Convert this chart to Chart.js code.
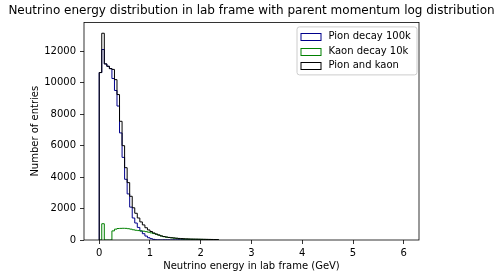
<!DOCTYPE html>
<html>
<head>
<meta charset="utf-8">
<script src="https://cdn.jsdelivr.net/npm/chart.js@4.4.1/dist/chart.umd.min.js"></script>
<style>
  html, body { margin: 0; padding: 0; background: #fff; }
  #chart { display: block; }
</style>
</head>
<body>
<canvas id="chart" width="503" height="278"></canvas>
<script>
// histogram bins start at 0 GeV, each 0.05 GeV wide
const binWidth = 0.05;

const pionCounts = [10650, 12115, 11200, 11050, 10900, 10270, 9510, 8520, 6810, 5255,
    3860, 2930, 2090, 1400, 1080, 800, 570, 400, 250, 145,
    85, 40, 15, 10, 5, 10, 10, 7, 7, 10,
    11, 15, 18, 18, 17, 16, 14, 14, 13, 12,
    11, 11, 11, 10, 9, 8, 7];

const kaonCounts = [0, 1035, 0, 0, 0, 580, 690, 730, 740, 745,
    740, 720, 690, 650, 620, 600, 580, 560, 530, 495,
    455, 410, 365, 310, 255, 210, 180, 158, 138, 120,
    104, 85, 72, 62, 55, 50, 46, 44, 42, 40,
    37, 34, 31, 28, 25, 22, 18];

const totalCounts = [10650, 13150, 11200, 11050, 10900, 10850, 10200, 9250, 7550, 6000,
    4600, 3650, 2780, 2050, 1700, 1400, 1150, 960, 780, 640,
    540, 450, 380, 320, 260, 220, 190, 165, 145, 130,
    115, 100, 90, 80, 72, 66, 60, 58, 55, 52,
    48, 45, 42, 38, 34, 30, 25];

const seriesLabels = ['Pion decay 100k', 'Kaon decay 10k', 'Pion and kaon'];
const seriesColors = ['#00008b', '#008000', '#000000'];

const xTicks = [0, 1, 2, 3, 4, 5, 6];
const yTicks = [0, 2000, 4000, 6000, 8000, 10000, 12000];

const FONT = 'DejaVu Sans';
Chart.defaults.font.family = FONT;
Chart.defaults.color = '#000';

// outline of a step histogram: up from 0, across each bin, back down to 0
function stepPoints(counts) {
    const pts = [{ x: 0, y: 0 }];
    counts.forEach((c, i) => pts.push({ x: i * binWidth, y: c }));
    pts.push({ x: counts.length * binWidth, y: 0 });
    return pts;
}

const frame = {
    id: 'frame',
    afterDatasetsDraw(chart) {
        const { ctx, chartArea: a } = chart;
        ctx.save();
        ctx.strokeStyle = '#000';
        ctx.lineWidth = 0.8;
        ctx.strokeRect(a.left, a.top, a.right - a.left, a.bottom - a.top);
        ctx.restore();
    }
};

const boxLegend = {
    id: 'boxLegend',
    afterDraw(chart) {
        const { ctx, chartArea: a } = chart;
        const w = 120, h = 48;
        const x0 = a.right - 2 - w, y0 = a.top + 4.5;
        ctx.save();
        ctx.fillStyle = 'rgba(255,255,255,0.8)';
        ctx.strokeStyle = '#cccccc';
        ctx.lineWidth = 1;
        ctx.beginPath();
        ctx.roundRect(x0, y0, w, h, 2.5);
        ctx.fill();
        ctx.stroke();

        ctx.font = '10px "' + FONT + '"';
        ctx.textBaseline = 'middle';
        ctx.fillStyle = '#000';
        seriesLabels.forEach((label, i) => {
            const cy = y0 + 9.6 + i * 14.7;
            ctx.strokeStyle = seriesColors[i];
            ctx.lineWidth = 1;
            ctx.strokeRect(x0 + 4, Math.round(cy - 3.5) + 0.5, 20, 7);
            ctx.fillText(label, x0 + 31.5, cy);
        });
        ctx.restore();
    }
};

new Chart(document.getElementById('chart'), {
    type: 'line',
    data: {
        datasets: [
            { label: seriesLabels[0], data: stepPoints(pionCounts), borderColor: seriesColors[0], order: 2 },
            { label: seriesLabels[1], data: stepPoints(kaonCounts), borderColor: seriesColors[1], order: 1 },
            { label: seriesLabels[2], data: stepPoints(totalCounts), borderColor: seriesColors[2], order: 0 }
        ]
    },
    options: {
        responsive: false,
        animation: false,
        events: [],
        elements: {
            line: { borderWidth: 1, stepped: true, tension: 0, fill: false },
            point: { radius: 0 }
        },
        layout: { padding: 0 },
        plugins: {
            legend: { display: false },
            tooltip: { enabled: false },
            title: {
                display: true,
                text: 'Neutrino energy distribution in lab frame with parent momentum log distribution',
                font: { family: FONT, size: 12, weight: 'normal' },
                color: '#000',
                padding: { top: 4, bottom: 4 }
            }
        },
        scales: {
            x: {
                type: 'linear',
                min: -0.3,
                max: 6.3,
                afterBuildTicks: s => { s.ticks = xTicks.map(v => ({ value: v })); },
                afterFit: s => { s.height = 38; },
                border: { display: false },
                grid: { drawOnChartArea: false, drawTicks: true, tickLength: 4, color: '#000', lineWidth: 0.8 },
                ticks: { font: { size: 10 }, padding: 3, maxRotation: 0, callback: v => String(v) },
                title: {
                    display: true,
                    text: 'Neutrino energy in lab frame (GeV)',
                    font: { size: 10 },
                    padding: { top: 0, bottom: 6 }
                }
            },
            y: {
                type: 'linear',
                position: 'left',
                min: 0,
                max: 13840,
                afterBuildTicks: s => { s.ticks = yTicks.map(v => ({ value: v })); },
                afterFit: s => { s.width = 84; },
                border: { display: false },
                grid: { drawOnChartArea: false, drawTicks: true, tickLength: 4, color: '#000', lineWidth: 0.8 },
                ticks: { font: { size: 10 }, padding: 4, callback: v => String(v) },
                title: {
                    display: true,
                    text: 'Number of entries',
                    font: { size: 10 },
                    padding: { top: 29, bottom: 0 }
                }
            },
            // empty right-hand strip so the plot area matches the reference margins
            yr: {
                position: 'right',
                afterFit: s => { s.width = 84; },
                border: { display: false },
                grid: { display: false },
                ticks: { display: false }
            }
        }
    },
    plugins: [frame, boxLegend]
});
</script>
</body>
</html>
